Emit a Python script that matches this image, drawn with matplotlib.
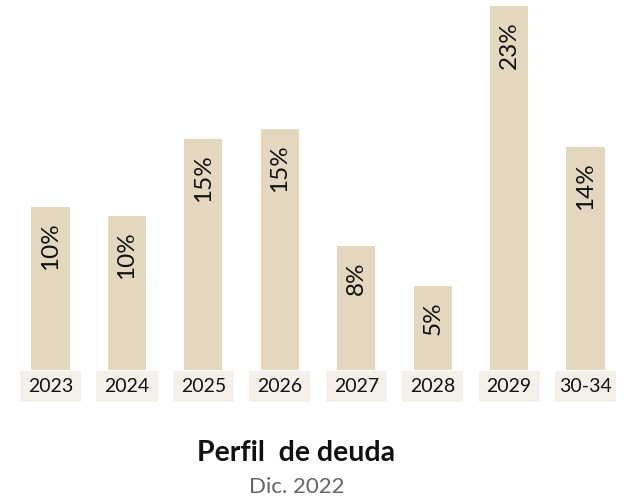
import matplotlib
matplotlib.use("Agg")
import matplotlib.pyplot as plt
from matplotlib.patches import Rectangle

categories = ["2023", "2024", "2025", "2026", "2027", "2028", "2029", "30-34"]
values = [10.3, 9.7, 14.6, 15.2, 7.8, 5.3, 23.0, 14.1]
value_labels = ["10%", "10%", "15%", "15%", "8%", "5%", "23%", "14%"]

BAR = "#E3D7C0"
BOX = "#F5F1EA"

plt.rcParams['font.family'] = ['Lato', 'DejaVu Sans']

fig = plt.figure(figsize=(6.24, 5.01), dpi=100)
ax = fig.add_axes([0, 0, 1, 1])
ax.set_xlim(-0.661, 7.503)
ax.set_ylim(-8.28, 23.37)
ax.axis("off")

x = list(range(len(categories)))
ax.bar(x, values, width=0.5, color=BAR, bottom=0)

for i, (v, lab, cat) in enumerate(zip(values, value_labels, categories)):
    ax.annotate(lab, xy=(i, v), xytext=(0, -11), textcoords="offset points",
                rotation=90, ha="center", va="top", fontsize=17.5, color="#111111")
    ax.add_patch(Rectangle((i - 0.4, -2.02), 0.8, 1.96, color=BOX, lw=0))
    ax.text(i, -1.04, cat, ha="center", va="center", fontsize=14, color="#111111")

fig.text(0.475, 0.080, "Perfil  de deuda", ha="center", va="baseline",
         fontsize=20.5, fontweight="bold", color="#111111")
fig.text(0.475, 0.016, "Dic. 2022", ha="center", va="baseline",
         fontsize=16, color="#666666")

fig.savefig("out.png", dpi=100)
